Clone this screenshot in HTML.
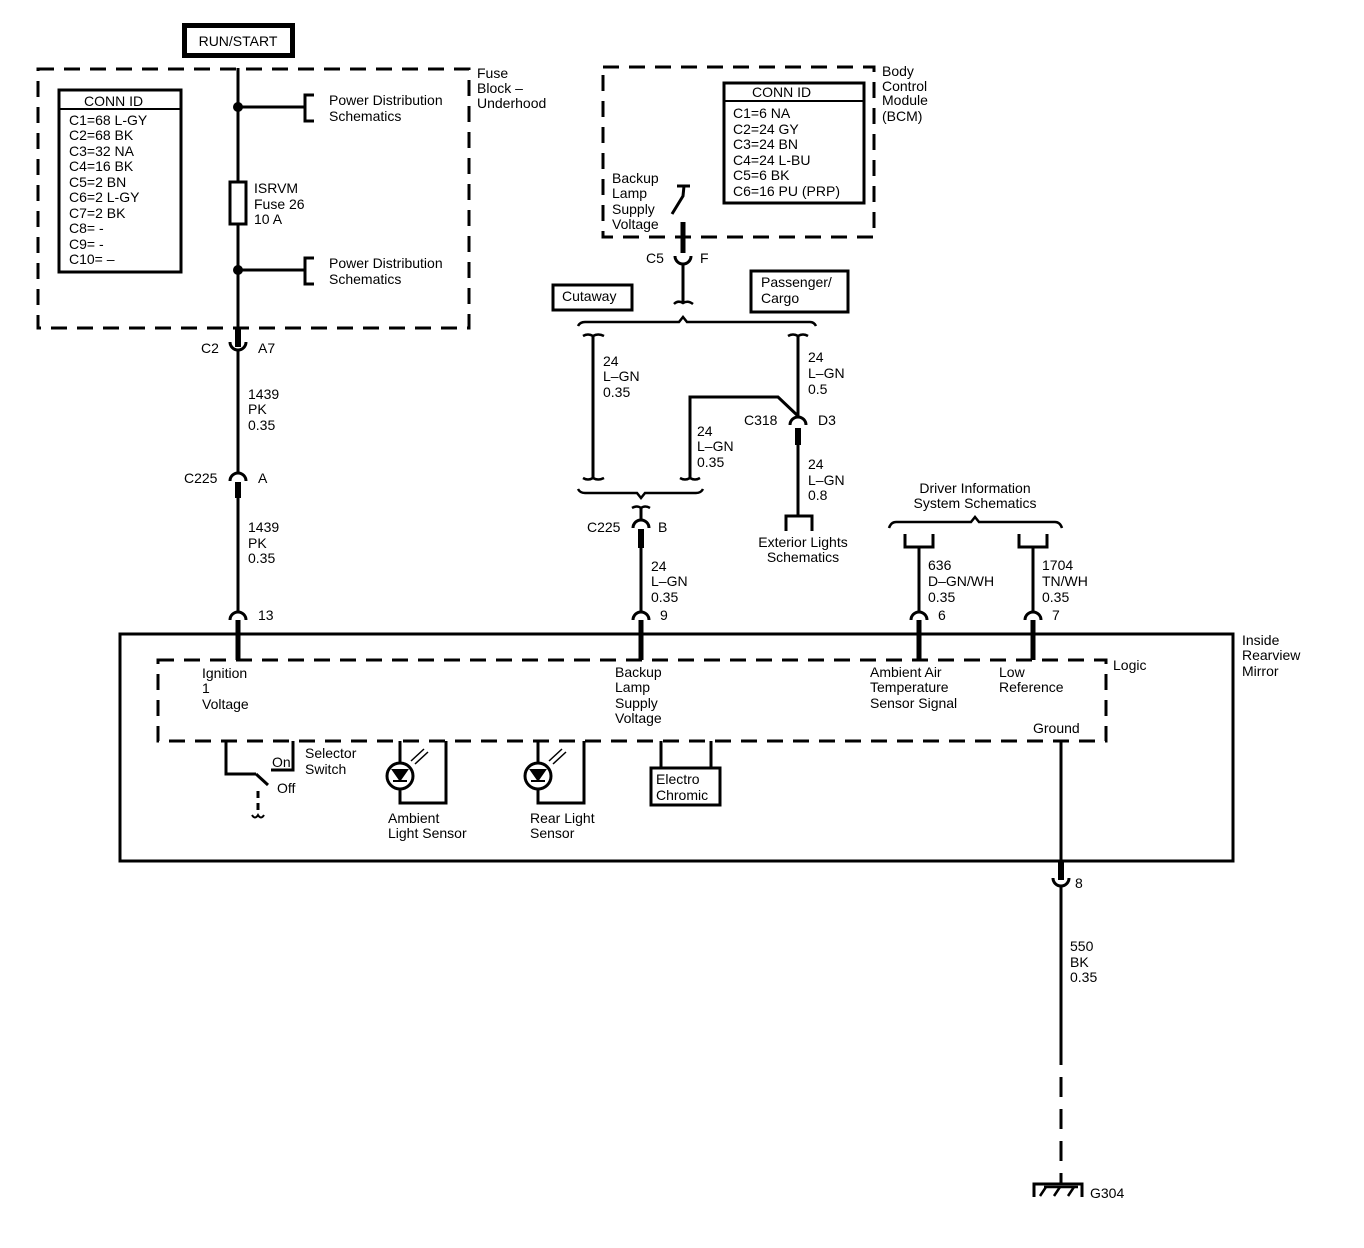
<!DOCTYPE html>
<html><head><meta charset="utf-8"><style>
html,body{margin:0;padding:0;background:#fff;}
svg{display:block;}
text{font-family:"Liberation Sans",sans-serif;font-size:14px;fill:#000;}
</style></head><body>
<svg width="1364" height="1248" viewBox="0 0 1364 1248" xmlns="http://www.w3.org/2000/svg">
<g stroke="#000" fill="none" stroke-width="3">
<!-- RUN/START -->
<rect x="184.5" y="25.5" width="108" height="30" stroke-width="5"/>
<!-- Fuse block dashed -->
<rect x="38" y="69" width="431" height="259" stroke-dasharray="16,10"/>
<!-- CONN ID -->
<rect x="59" y="90" width="122" height="182"/>
<line x1="59" y1="109" x2="181" y2="109" stroke-width="2"/>
<!-- main wire -->
<line x1="238" y1="68" x2="238" y2="328"/>
<circle cx="238" cy="107" r="3.5" fill="#000"/>
<circle cx="238" cy="270" r="3.5" fill="#000"/>
<line x1="238" y1="107" x2="305" y2="107"/>
<path d="M314 95 H305 V121 H314"/>
<line x1="238" y1="270" x2="305" y2="270"/>
<path d="M314 258 H305 V284 H314"/>
<rect x="230" y="182" width="16" height="42" fill="#fff"/>
<!-- C2 -->
<line x1="238" y1="328" x2="238" y2="347" stroke-width="6"/>
<path d="M230 342 A8 8 0 0 0 246 342"/>
<line x1="238" y1="350" x2="238" y2="473"/>
<path d="M230 481 A8 8 0 0 1 246 481"/>
<line x1="238" y1="482" x2="238" y2="498" stroke-width="6"/>
<line x1="238" y1="498" x2="238" y2="612"/>
<path d="M230 620 A8 8 0 0 1 246 620"/>
<line x1="238" y1="620" x2="238" y2="660" stroke-width="5"/>
<!-- module -->
<rect x="120" y="634" width="1113" height="227"/>
<rect x="158" y="660" width="948" height="81" stroke-dasharray="16,10"/>
<!-- BCM -->
<rect x="603" y="67" width="271" height="170" stroke-dasharray="16,10"/>
<rect x="724" y="83" width="140" height="120"/>
<line x1="724" y1="101" x2="864" y2="101" stroke-width="2"/>
<path d="M677 186 H690 M684 186 L683 196 L672 214"/>
<line x1="683" y1="222" x2="683" y2="253" stroke-width="5"/>
<path d="M675 256 A8 8 0 0 0 691 256"/>
<line x1="683" y1="264" x2="683" y2="303"/>
<path d="M674 304 Q678 300 683 303 Q688 300 693 304" stroke-width="2.5"/>
<rect x="553" y="285" width="79" height="25"/>
<rect x="751" y="271" width="97" height="41"/>
<!-- upper bracket -->
<path d="M578 326 Q580 322 585 322 H679 L683 317 L687 322 H810 Q814 322 816 326" stroke-width="2.5"/>
<path d="M583 336 Q588 333 593 336 Q598 333 604 336" stroke-width="2.5"/>
<line x1="593" y1="336" x2="593" y2="478"/>
<path d="M583 478 Q588 481 593 478 Q598 481 604 478" stroke-width="2.5"/>
<path d="M788 336 Q793 333 798 336 Q803 333 808 336" stroke-width="2.5"/>
<line x1="798" y1="336" x2="798" y2="416"/>
<path d="M798 416 L778 397 H690 V478"/>
<path d="M680 478 Q685 481 690 478 Q695 481 700 478" stroke-width="2.5"/>
<path d="M790 425 A8 8 0 0 1 806 425"/>
<line x1="798" y1="428" x2="798" y2="445" stroke-width="6"/>
<line x1="798" y1="445" x2="798" y2="516"/>
<path d="M786 531 V516 H812 V531"/>
<!-- lower bracket -->
<path d="M578 489 Q580 493 585 493 H637 L641 498 L645 493 H696 Q701 493 703 489" stroke-width="2.5"/>
<path d="M632 508 Q637 505 641 508 Q645 505 650 508" stroke-width="2.5"/>
<line x1="641" y1="508" x2="641" y2="520"/>
<path d="M633 528 A8 8 0 0 1 649 528"/>
<line x1="641" y1="529" x2="641" y2="548" stroke-width="6"/>
<line x1="641" y1="548" x2="641" y2="612"/>
<path d="M633 620 A8 8 0 0 1 649 620"/>
<line x1="641" y1="620" x2="641" y2="660" stroke-width="5"/>
<!-- driver info -->
<path d="M889 528 Q891 522 896 522 H971 L975 517 L979 522 H1055 Q1060 522 1062 528" stroke-width="2.5"/>
<path d="M905 534 V547 H933 V534"/>
<path d="M1019 534 V547 H1047 V534"/>
<line x1="919" y1="547" x2="919" y2="612"/>
<line x1="1033" y1="547" x2="1033" y2="612"/>
<path d="M911 620 A8 8 0 0 1 927 620"/>
<path d="M1025 620 A8 8 0 0 1 1041 620"/>
<line x1="919" y1="620" x2="919" y2="660" stroke-width="5"/>
<line x1="1033" y1="620" x2="1033" y2="660" stroke-width="5"/>
<!-- ground -->
<line x1="1061" y1="741" x2="1061" y2="880"/>
<line x1="1061" y1="861" x2="1061" y2="880" stroke-width="6"/>
<path d="M1053 878 A8 8 0 0 0 1069 878"/>
<line x1="1061" y1="886" x2="1061" y2="1045"/>
<line x1="1061" y1="1045" x2="1061" y2="1183" stroke-dasharray="20,12"/>
<path d="M1034 1197 V1184 H1082 V1197"/>
<path d="M1040 1196 L1046 1187 M1054 1196 L1060 1187 M1068 1196 L1074 1187 M1044 1187 H1078" stroke-width="2.5"/>
<!-- selector switch -->
<path d="M226 741 V774 H256"/>
<line x1="256" y1="774" x2="268" y2="785"/>
<path d="M293 741 V770 H271"/>
<line x1="258" y1="791" x2="258" y2="812" stroke-dasharray="7,5"/>
<path d="M252 815 Q255 820 258 815 Q261 820 264 815" stroke-width="2"/>
<!-- ambient light sensor -->
<path d="M400 741 V764 M400 789 V803 H446 V741"/>
<circle cx="400" cy="776" r="13"/>
<path d="M393 770 H407 L400 780 Z M393 781 H407" stroke-width="2" fill="#000"/>
<path d="M411 761 L424 749 M415 764 L428 752" stroke-width="1.5"/>
<path d="M538 741 V764 M538 789 V803 H584 V741"/>
<circle cx="538" cy="776" r="13"/>
<path d="M531 770 H545 L538 780 Z M531 781 H545" stroke-width="2" fill="#000"/>
<path d="M549 761 L562 749 M553 764 L566 752" stroke-width="1.5"/>
<!-- electro chromic -->
<path d="M661 741 V768 M711 741 V768"/>
<rect x="651" y="768" width="69" height="37"/>
</g>
<g>
<text x="238" y="46" text-anchor="middle">RUN/START</text>
<text x="84" y="106">CONN ID</text>
<text x="69" y="125">C1=68 L-GY</text>
<text x="69" y="140">C2=68 BK</text>
<text x="69" y="156">C3=32 NA</text>
<text x="69" y="171">C4=16 BK</text>
<text x="69" y="187">C5=2 BN</text>
<text x="69" y="202">C6=2 L-GY</text>
<text x="69" y="218">C7=2 BK</text>
<text x="69" y="233">C8= -</text>
<text x="69" y="249">C9= -</text>
<text x="69" y="264">C10= –</text>
<text x="477" y="78">Fuse</text>
<text x="477" y="93">Block –</text>
<text x="477" y="108">Underhood</text>
<text x="329" y="105">Power Distribution</text>
<text x="329" y="121">Schematics</text>
<text x="329" y="268">Power Distribution</text>
<text x="329" y="284">Schematics</text>
<text x="254" y="193">ISRVM</text>
<text x="254" y="209">Fuse 26</text>
<text x="254" y="224">10 A</text>
<text x="201" y="353">C2</text>
<text x="258" y="353">A7</text>
<text x="248" y="399">1439</text>
<text x="248" y="414">PK</text>
<text x="248" y="430">0.35</text>
<text x="184" y="483">C225</text>
<text x="258" y="483">A</text>
<text x="248" y="532">1439</text>
<text x="248" y="548">PK</text>
<text x="248" y="563">0.35</text>
<text x="258" y="620">13</text>
<text x="882" y="76">Body</text>
<text x="882" y="91">Control</text>
<text x="882" y="105">Module</text>
<text x="882" y="121">(BCM)</text>
<text x="752" y="97">CONN ID</text>
<text x="733" y="118">C1=6 NA</text>
<text x="733" y="134">C2=24 GY</text>
<text x="733" y="149">C3=24 BN</text>
<text x="733" y="165">C4=24 L-BU</text>
<text x="733" y="180">C5=6 BK</text>
<text x="733" y="196">C6=16 PU (PRP)</text>
<text x="612" y="183">Backup</text>
<text x="612" y="198">Lamp</text>
<text x="612" y="214">Supply</text>
<text x="612" y="229">Voltage</text>
<text x="646" y="263">C5</text>
<text x="700" y="263">F</text>
<text x="562" y="301">Cutaway</text>
<text x="761" y="287">Passenger/</text>
<text x="761" y="303">Cargo</text>
<text x="603" y="366">24</text>
<text x="603" y="381">L–GN</text>
<text x="603" y="397">0.35</text>
<text x="808" y="362">24</text>
<text x="808" y="378">L–GN</text>
<text x="808" y="394">0.5</text>
<text x="697" y="436">24</text>
<text x="697" y="451">L–GN</text>
<text x="697" y="467">0.35</text>
<text x="744" y="425">C318</text>
<text x="818" y="425">D3</text>
<text x="808" y="469">24</text>
<text x="808" y="485">L–GN</text>
<text x="808" y="500">0.8</text>
<text x="803" y="547" text-anchor="middle">Exterior Lights</text>
<text x="803" y="562" text-anchor="middle">Schematics</text>
<text x="587" y="532">C225</text>
<text x="658" y="532">B</text>
<text x="651" y="571">24</text>
<text x="651" y="586">L–GN</text>
<text x="651" y="602">0.35</text>
<text x="660" y="620">9</text>
<text x="975" y="493" text-anchor="middle">Driver Information</text>
<text x="975" y="508" text-anchor="middle">System Schematics</text>
<text x="928" y="570">636</text>
<text x="928" y="586">D–GN/WH</text>
<text x="928" y="602">0.35</text>
<text x="1042" y="570">1704</text>
<text x="1042" y="586">TN/WH</text>
<text x="1042" y="602">0.35</text>
<text x="938" y="620">6</text>
<text x="1052" y="620">7</text>
<text x="1242" y="645">Inside</text>
<text x="1242" y="660">Rearview</text>
<text x="1242" y="676">Mirror</text>
<text x="1113" y="670">Logic</text>
<text x="202" y="678">Ignition</text>
<text x="202" y="693">1</text>
<text x="202" y="709">Voltage</text>
<text x="615" y="677">Backup</text>
<text x="615" y="692">Lamp</text>
<text x="615" y="708">Supply</text>
<text x="615" y="723">Voltage</text>
<text x="870" y="677">Ambient Air</text>
<text x="870" y="692">Temperature</text>
<text x="870" y="708">Sensor Signal</text>
<text x="999" y="677">Low</text>
<text x="999" y="692">Reference</text>
<text x="1033" y="733">Ground</text>
<text x="305" y="758">Selector</text>
<text x="305" y="774">Switch</text>
<text x="272" y="767">On</text>
<text x="277" y="793">Off</text>
<text x="388" y="823">Ambient</text>
<text x="388" y="838">Light Sensor</text>
<text x="530" y="823">Rear Light</text>
<text x="530" y="838">Sensor</text>
<text x="656" y="784">Electro</text>
<text x="656" y="800">Chromic</text>
<text x="1075" y="888">8</text>
<text x="1070" y="951">550</text>
<text x="1070" y="967">BK</text>
<text x="1070" y="982">0.35</text>
<text x="1090" y="1198">G304</text>
</g>
</svg>
</body></html>
